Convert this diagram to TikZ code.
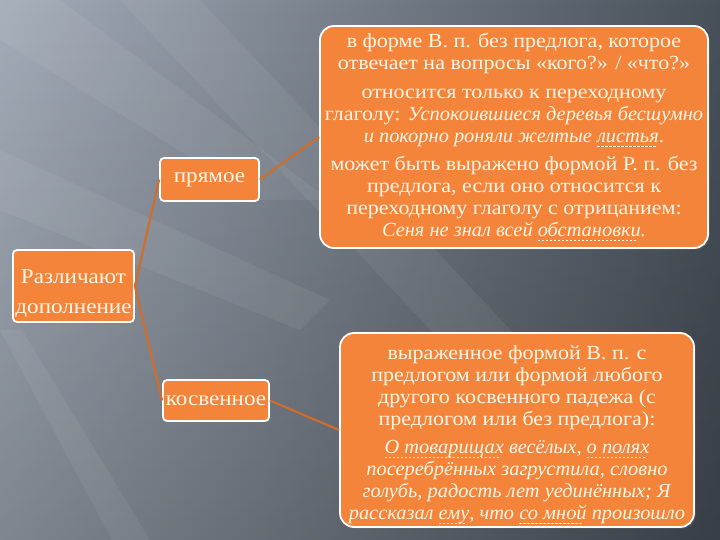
\documentclass[tikz,border=0pt]{standalone}
\usepackage{fontspec}
\setmainfont{Liberation Serif}[FakeStretch=1.1, ItalicFeatures={FakeStretch=1.02}]
\usetikzlibrary{shadows,fadings}
\definecolor{bgl}{HTML}{A3ACB8}
\definecolor{bgd}{HTML}{48505A}
\definecolor{orng}{HTML}{F3843A}
\definecolor{conn}{HTML}{D06C2C}
\definecolor{txt}{HTML}{FFF6E8}
\tikzset{
  box/.style={draw=white, line width=1.8pt, fill=orng, text=txt, align=center,
    inner sep=0pt, drop shadow={opacity=0.35, shadow xshift=1.5pt, shadow yshift=-1.5pt}},
  bigbox/.style={box, rounded corners=14pt, font=\fontsize{20}{22}\selectfont},
  smallbox/.style={box, rounded corners=4pt, font=\fontsize{21}{30}\selectfont},
  link/.style={draw=conn, line width=2.2pt},
  band/.style={fill=white, opacity=0.06}
}
\newcommand{\dl}[1]{\setbox0\hbox{#1}\leavevmode\rlap{\raisebox{-3.5pt}{\hbox to\wd0{\leaders\hbox{\rule{2.5pt}{0.8pt}\hspace{1.5pt}}\hfill}}}\box0\relax}
\begin{document}
\begin{tikzpicture}[x=1pt,y=-1pt]
\useasboundingbox (0,0) rectangle (720,540);
\shade[left color=bgl, right color=bgd] (0,0) rectangle (720,540);
\fill[black, opacity=0.22, path fading=north] (0,0) rectangle (720,540);
\fill[band] (120,0) -- (200,0) -- (520,340) -- (440,340) -- cycle;
\fill[band] (0,0) -- (60,0) -- (330,200) -- (260,200) -- (0,40) -- cycle;
\fill[band] (0,330) -- (22,330) -- (150,540) -- (112,540) -- cycle;
\fill[band] (0,150) -- (0,210) -- (300,330) -- (330,300) -- cycle;

\node[bigbox, minimum width=388, minimum height=222] (b1) at (514,137)
{в форме В. п. без предлога, которое\\
отвечает на вопросы «кого?» / «что?»\\[7pt]
относится только к переходному\\
глаголу: \textit{Успокоившиеся деревья бесшумно}\\
\textit{и покорно роняли желтые \dl{листья}}.\\[6pt]
может быть выражено формой Р. п. без\\
предлога, если оно относится к\\
переходному глаголу с отрицанием:\\
\textit{Сеня не знал всей \dl{обстановки}.}};

\node[bigbox, minimum width=354, minimum height=194] (b2) at (517,430)
{\rule{0pt}{24pt}выраженное формой В. п. с\\
предлогом или формой любого\\
другого косвенного падежа (с\\
предлогом или без предлога):\\[6pt]
\textit{\dl{О товарищах} весёлых, \dl{о полях}}\\
\textit{посеребрённых загрустила, словно}\\
\textit{голубь, радость лет уединённых; Я}\\
\textit{рассказал \dl{ему}, что \dl{со мной} произошло}};

\node[smallbox, minimum width=99, minimum height=43] (pr) at (209.5,179.5) {\raisebox{-4pt}{прямое}};
\node[smallbox, minimum width=121, minimum height=72] (rz) at (73.5,286) {\rule{0pt}{30pt}Различают\\дополнение};
\node[smallbox, minimum width=106, minimum height=41] (ks) at (216,400.5) {косвенное};

\draw[link] (rz.east) -- (pr.west);
\draw[link] (rz.east) -- (ks.west);
\draw[link] (pr.east) -- (b1.west);
\draw[link] (ks.east) -- (b2.west);
\end{tikzpicture}
\end{document}
